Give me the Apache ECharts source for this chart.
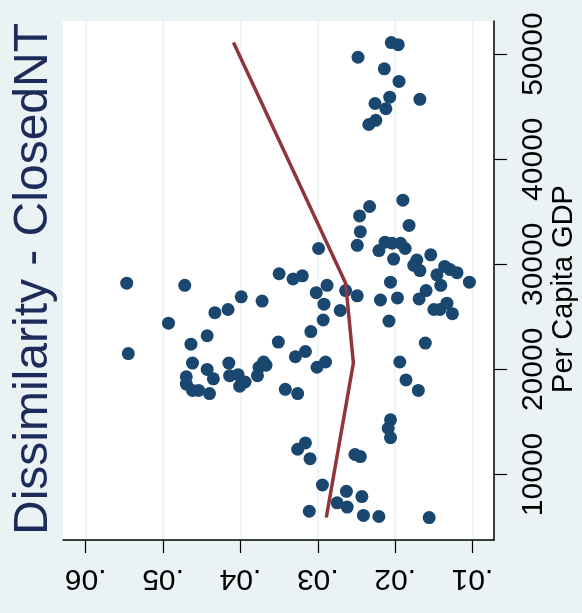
<!DOCTYPE html>
<html><head><meta charset="utf-8">
<script src="https://cdn.jsdelivr.net/npm/echarts@6/dist/echarts.min.js"></script>
<style>html,body{margin:0;padding:0;background:#EAF2F3}#c{width:582px;height:613px}</style>
</head><body><div id="c"></div>
<script>
// Scatter points: dissimilarity (ClosedNT) vs per capita GDP
const dissim = [0.0205,0.0196,0.0248,0.0214,0.0195,0.0207,0.0168,0.0226,0.0212,0.0225,0.0234,
  0.0190,0.0233,0.0246,0.0182,0.0245,0.0249,0.0299,0.0213,0.0204,0.0193,0.0221,0.0187,0.0202,0.0154,
  0.0172,0.0176,0.0168,0.0136,0.0129,0.0120,0.0146,0.0104,0.0141,0.0206,0.0160,0.0169,0.0197,0.0219,
  0.0249,0.0264,0.0288,0.0302,0.0292,0.0271,0.0293,0.0150,0.0142,0.0133,0.0126,0.0208,0.0161,
  0.0547,0.0472,0.0350,0.0332,0.0320,0.0399,0.0372,0.0433,0.0416,0.0493,0.0443,0.0464,0.0545,0.0351,
  0.0309,0.0316,0.0329,0.0301,0.0290,0.0194,0.0186,0.0170,0.0462,0.0443,0.0435,0.0470,0.0470,0.0462,
  0.0454,0.0440,0.0415,0.0414,0.0403,0.0394,0.0401,0.0378,0.0376,0.0367,0.0370,0.0342,0.0326,
  0.0206,0.0209,0.0206,0.0316,0.0326,0.0310,0.0252,0.0245,0.0294,0.0263,0.0243,0.0275,0.0262,0.0311,
  0.0241,0.0221,0.0156];
const gdp = [51100,50900,49700,48600,47400,45900,45700,45300,44800,43700,43300,
  36100,35500,34600,33700,33100,31800,31500,32100,32000,32000,31300,31500,30500,30900,
  30400,29900,29400,29800,29500,29200,29000,28300,28000,28300,27500,26700,26800,26600,
  27000,27500,28000,27300,26200,25600,24700,25700,25700,26300,25300,24600,22500,
  28200,28000,29100,28600,28900,26900,26500,25400,25700,24400,23200,22400,21500,22600,
  23600,21700,21200,20200,20700,20700,19000,18000,20600,20000,19100,19300,18600,18000,
  18000,17700,20600,19400,19500,18800,18400,19400,20200,20400,20700,18100,17700,
  15200,14400,13500,13000,12400,11500,11900,11700,9000,8400,7900,7300,6900,6500,
  6100,6000,5900];
// Fitted line
const fitDissim = [0.0409, 0.0264, 0.0254, 0.0289];
const fitGdp = [51100, 28200, 20600, 5900];
// Axis ticks
const xTicks = [0.01, 0.02, 0.03, 0.04, 0.05, 0.06];
const xTickLabels = ['.01', '.02', '.03', '.04', '.05', '.06'];
const yTicks = [10000, 20000, 30000, 40000, 50000];
const yTickLabels = ['10000', '20000', '30000', '40000', '50000'];
const titleText = 'Dissimilarity - ClosedNT';
const yTitleText = 'Per Capita GDP';

const chart = echarts.init(document.getElementById('c'), null, {renderer: 'canvas'});
const font = 'Liberation Sans, Arial, Helvetica, sans-serif';
const xLabelMap = {}; xTicks.forEach((v, i) => xLabelMap[v.toFixed(2)] = xTickLabels[i]);
const yLabelMap = {}; yTicks.forEach((v, i) => yLabelMap[v] = yTickLabels[i]);

chart.setOption({
  animation: false,
  backgroundColor: '#EAF2F3',
  grid: {left: 63, top: 21, right: 88, bottom: 73, show: true, backgroundColor: '#ffffff', borderWidth: 0, containLabel: false},
  xAxis: {
    type: 'value', inverse: true, min: 0.00722, max: 0.06294, position: 'bottom',
    axisLine: {show: true, onZero: false, lineStyle: {color: '#000', width: 1.5}},
    axisTick: {show: true, length: 13, customValues: xTicks, lineStyle: {color: '#000', width: 1.2}},
    axisLabel: {show: true, customValues: xTicks, rotate: 180, margin: 23, fontSize: 30, color: '#000', fontFamily: font,
      formatter: v => xLabelMap[Number(v).toFixed(2)] || ''},
    splitLine: {show: true, lineStyle: {color: '#EAF2F3', width: 1.5}}
  },
  yAxis: {
    type: 'value', min: 3764, max: 53150, position: 'right',
    axisLine: {show: true, onZero: false, lineStyle: {color: '#000', width: 1.5}},
    axisTick: {show: true, length: 13, customValues: yTicks, lineStyle: {color: '#000', width: 1.2}},
    axisLabel: {show: true, customValues: yTicks, rotate: 90, margin: 25, fontSize: 30, color: '#000', fontFamily: font,
      formatter: v => yLabelMap[v] || ''},
    splitLine: {show: false}
  },
  graphic: [
    {type: 'text', x: 34, y: 279, rotation: Math.PI / 2, z: 100,
      style: {text: titleText, fontSize: 48, fontFamily: font, fill: '#1d2b5a', textAlign: 'center', textVerticalAlign: 'middle'}},
    {type: 'text', x: 564, y: 289, rotation: Math.PI / 2, z: 100,
      style: {text: yTitleText, fontSize: 29, fontFamily: font, fill: '#000', textAlign: 'center', textVerticalAlign: 'middle'}}
  ],
  series: [
    {type: 'scatter', data: dissim.map((d, i) => [d, gdp[i]]), symbol: 'circle', symbolSize: 13,
      itemStyle: {color: '#1a476f', opacity: 1}, z: 2},
    {type: 'line', data: fitDissim.map((d, i) => [d, fitGdp[i]]), showSymbol: false, symbol: 'none',
      lineStyle: {color: '#90353b', width: 3.5}, z: 3}
  ]
});
</script></body></html>
